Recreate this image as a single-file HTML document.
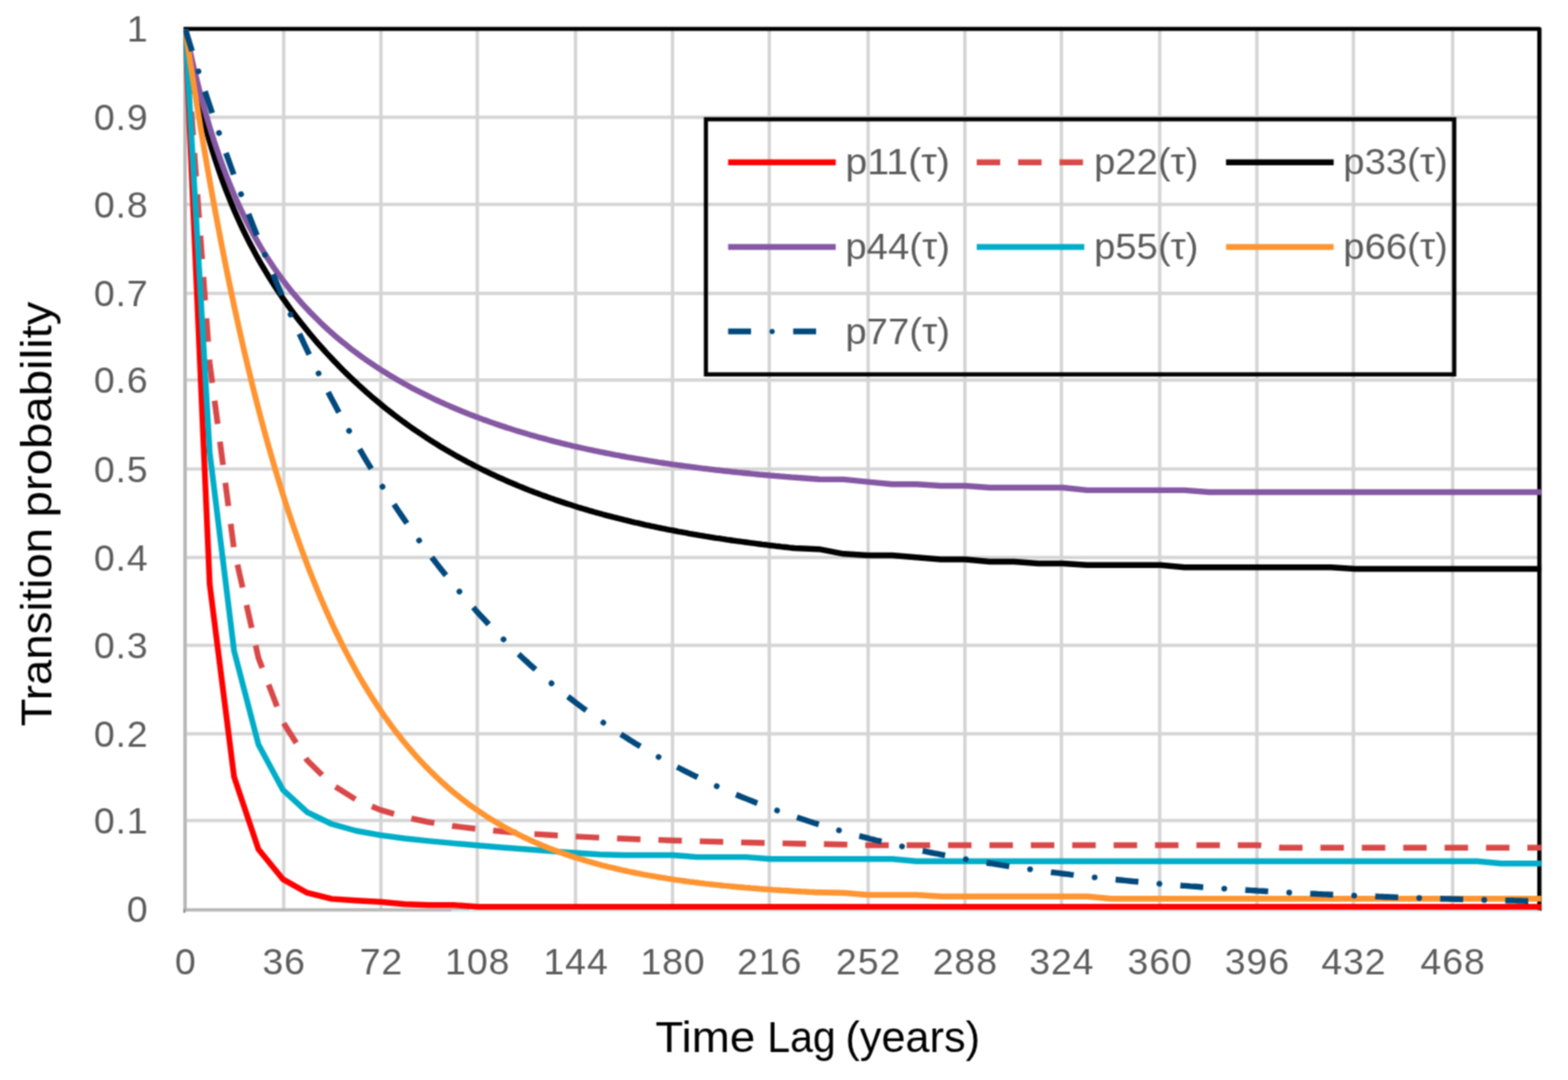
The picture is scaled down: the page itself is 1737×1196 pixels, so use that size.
<!DOCTYPE html>
<html lang="en">
<head>
<meta charset="utf-8">
<title>Transition probability vs. time lag</title>
<style>
html,body{margin:0;padding:0;background:#fff;}
body{width:1737px;height:1196px;overflow:hidden;}
svg{display:block;}
text{font-family:"Liberation Sans",sans-serif;}
.tick{font-size:41.5px;fill:#5c5c5c;letter-spacing:1px;}
.leg{font-size:41.5px;fill:#5c5c5c;}
.title{font-size:49px;fill:#000;}
.grid line{stroke:#d5d5d5;stroke-width:3.8;}
.series path{fill:none;stroke-width:6.4;stroke-linejoin:round;}
</style>
</head>
<body>
<svg width="1737" height="1196" viewBox="0 0 1737 1196" role="img" aria-label="Transition probability versus time lag">
<defs>
<clipPath id="plotclip"><rect x="203.3" y="30.0" width="1504.0" height="979.7"/></clipPath>
<filter id="soft" x="0" y="0" width="1737" height="1196" filterUnits="userSpaceOnUse" color-interpolation-filters="sRGB"><feConvolveMatrix order="3" kernelMatrix="0.0625 0.125 0.0625 0.125 0.25 0.125 0.0625 0.125 0.0625" divisor="1" edgeMode="duplicate" preserveAlpha="false"/></filter>
</defs>
<g filter="url(#soft)">
<rect x="0" y="0" width="1737" height="1196" fill="#ffffff"/>
<g class="grid">
<line x1="205.3" y1="908.7" x2="1705.3" y2="908.7"/>
<line x1="205.3" y1="812.7" x2="1705.3" y2="812.7"/>
<line x1="205.3" y1="714.6" x2="1705.3" y2="714.6"/>
<line x1="205.3" y1="617.3" x2="1705.3" y2="617.3"/>
<line x1="205.3" y1="519.4" x2="1705.3" y2="519.4"/>
<line x1="205.3" y1="420.8" x2="1705.3" y2="420.8"/>
<line x1="205.3" y1="324.9" x2="1705.3" y2="324.9"/>
<line x1="205.3" y1="226.4" x2="1705.3" y2="226.4"/>
<line x1="205.3" y1="129.9" x2="1705.3" y2="129.9"/>
<line x1="314.3" y1="32.0" x2="314.3" y2="1006.7"/>
<line x1="422.0" y1="32.0" x2="422.0" y2="1006.7"/>
<line x1="528.7" y1="32.0" x2="528.7" y2="1006.7"/>
<line x1="637.6" y1="32.0" x2="637.6" y2="1006.7"/>
<line x1="745.0" y1="32.0" x2="745.0" y2="1006.7"/>
<line x1="852.2" y1="32.0" x2="852.2" y2="1006.7"/>
<line x1="961.7" y1="32.0" x2="961.7" y2="1006.7"/>
<line x1="1068.9" y1="32.0" x2="1068.9" y2="1006.7"/>
<line x1="1175.8" y1="32.0" x2="1175.8" y2="1006.7"/>
<line x1="1284.7" y1="32.0" x2="1284.7" y2="1006.7"/>
<line x1="1392.4" y1="32.0" x2="1392.4" y2="1006.7"/>
<line x1="1499.3" y1="32.0" x2="1499.3" y2="1006.7"/>
<line x1="1609.2" y1="32.0" x2="1609.2" y2="1006.7"/>
</g>
<g fill="none">
<path d="M203.3 32.0 H1705.3 V1008.7" stroke="#000" stroke-width="4.7" stroke-linejoin="round"/>
<line x1="205.0" y1="34.0" x2="205.0" y2="1008.7" stroke="#bababa" stroke-width="4"/>
<line x1="203.0" y1="1007.6" x2="520.0" y2="1007.6" stroke="#b8b8b8" stroke-width="3.8"/>
<rect x="203.2" y="1006.6" width="2.1" height="4.4" fill="#8a8a8a"/>
<line x1="500.0" y1="1008.9" x2="1706.3" y2="1008.9" stroke="#d3f0f2" stroke-width="2.4"/>
</g>
<g class="series" clip-path="url(#plotclip)">
<path id="p11" stroke="#ff0000" stroke-linecap="butt" d="M205.3 32.4 L232.3 647.2 L259.3 860.3 L286.3 940.4 L313.3 973.6 L340.3 988.7 L367.3 995.4 L394.3 997.2 L421.3 998.7 L448.3 1001.2 L475.3 1002.2 L502.3 1002.2 L529.3 1004.2 L556.3 1004.2 L583.3 1004.2 L610.3 1004.2 L637.3 1004.2 L664.3 1004.2 L691.3 1004.2 L718.3 1004.2 L745.3 1004.2 L772.3 1004.2 L799.3 1004.2 L826.3 1004.2 L853.3 1004.2 L880.3 1004.2 L907.3 1004.2 L934.3 1004.2 L961.3 1004.2 L988.3 1004.2 L1015.3 1004.2 L1042.3 1004.2 L1069.3 1004.2 L1096.3 1004.2 L1123.3 1004.2 L1150.3 1004.2 L1177.3 1004.2 L1204.3 1004.2 L1231.3 1004.2 L1258.3 1004.2 L1285.3 1004.2 L1312.3 1004.2 L1339.3 1004.2 L1366.3 1004.2 L1393.3 1004.2 L1420.3 1004.2 L1447.3 1004.2 L1474.3 1004.2 L1501.3 1004.2 L1528.3 1004.2 L1555.3 1004.2 L1582.3 1004.2 L1609.3 1004.2 L1636.3 1004.2 L1663.3 1004.2 L1690.3 1004.2 L1717.3 1004.2"/>
<path id="p22" stroke="#d94848" stroke-dasharray="26 19.85" stroke-linecap="butt" d="M205.3 32.4 L232.3 402.1 L259.3 608.7 L286.3 728.6 L313.3 799.3 L340.3 842.0 L367.3 868.5 L394.3 885.5 L421.3 896.9 L448.3 904.8 L475.3 910.5 L502.3 914.8 L529.3 918.1 L556.3 920.8 L583.3 923.0 L610.3 924.8 L637.3 926.3 L664.3 927.7 L691.3 928.8 L718.3 929.8 L745.3 930.7 L772.3 931.6 L799.3 932.3 L826.3 933.0 L853.3 933.6 L880.3 934.2 L907.3 934.7 L934.3 935.2 L961.3 936.0 L988.3 936.0 L1015.3 936.0 L1042.3 936.0 L1069.3 936.0 L1096.3 936.0 L1123.3 936.0 L1150.3 936.0 L1177.3 936.0 L1204.3 936.0 L1231.3 936.0 L1258.3 936.0 L1285.3 936.0 L1312.3 936.0 L1339.3 936.0 L1366.3 936.0 L1393.3 936.0 L1420.3 938.8 L1447.3 938.8 L1474.3 938.8 L1501.3 938.8 L1528.3 938.8 L1555.3 938.8 L1582.3 938.8 L1609.3 938.8 L1636.3 938.8 L1663.3 938.8 L1690.3 938.8 L1717.3 938.8"/>
<path id="p33" stroke="#000000" stroke-linecap="butt" d="M205.3 32.4 L208.3 52.0 L211.3 69.0 L214.3 84.3 L217.3 98.3 L220.3 111.4 L223.3 123.7 L226.3 135.4 L229.3 146.4 L232.3 156.8 L235.3 166.7 L238.3 176.2 L241.3 185.3 L244.3 194.0 L247.3 202.3 L250.3 210.3 L253.3 217.9 L256.3 225.3 L259.3 232.4 L262.3 239.3 L265.3 245.9 L268.3 252.4 L271.3 258.6 L274.3 264.6 L277.3 270.5 L280.3 276.1 L283.3 281.7 L286.3 287.1 L289.3 292.3 L292.3 297.4 L295.3 302.4 L298.3 307.3 L301.3 312.1 L304.3 316.7 L307.3 321.3 L310.3 325.8 L313.3 330.2 L316.3 334.4 L319.3 338.7 L322.3 342.8 L325.3 346.8 L328.3 350.8 L331.3 354.7 L334.3 358.6 L337.3 362.3 L340.3 366.0 L343.3 369.7 L346.3 373.3 L349.3 376.8 L352.3 380.3 L355.3 383.7 L358.3 387.0 L361.3 390.4 L364.3 393.6 L367.3 396.8 L370.3 400.0 L373.3 403.1 L376.3 406.2 L379.3 409.2 L382.3 412.2 L385.3 415.1 L388.3 418.0 L391.3 420.9 L394.3 423.7 L397.3 426.5 L400.3 429.2 L403.3 431.9 L406.3 434.6 L409.3 437.2 L412.3 439.8 L415.3 442.3 L418.3 444.8 L421.3 447.3 L424.3 449.8 L427.3 452.2 L430.3 454.6 L433.3 456.9 L436.3 459.2 L439.3 461.5 L442.3 463.8 L445.3 466.0 L448.3 468.2 L451.3 470.3 L454.3 472.5 L457.3 474.6 L460.3 476.7 L463.3 478.7 L466.3 480.7 L469.3 482.7 L472.3 484.7 L475.3 486.6 L478.3 488.6 L481.3 490.4 L484.3 492.3 L487.3 494.2 L490.3 496.0 L493.3 497.8 L496.3 499.5 L499.3 501.3 L502.3 503.0 L505.3 504.7 L508.3 506.4 L511.3 508.0 L514.3 509.6 L517.3 511.3 L520.3 512.8 L523.3 514.4 L526.3 516.0 L529.3 517.5 L532.3 519.0 L535.3 520.5 L538.3 521.9 L541.3 523.4 L544.3 524.8 L547.3 526.2 L550.3 527.6 L553.3 529.0 L556.3 530.3 L559.3 531.6 L562.3 533.0 L565.3 534.3 L568.3 535.5 L571.3 536.8 L574.3 538.1 L577.3 539.3 L580.3 540.5 L583.3 541.7 L586.3 542.9 L589.3 544.0 L592.3 545.2 L595.3 546.3 L598.3 547.4 L601.3 548.6 L604.3 549.6 L607.3 550.7 L610.3 551.8 L613.3 552.8 L616.3 553.9 L619.3 554.9 L622.3 555.9 L625.3 556.9 L628.3 557.9 L631.3 558.8 L634.3 559.8 L637.3 560.7 L640.3 561.7 L643.3 562.6 L646.3 563.5 L649.3 564.4 L652.3 565.3 L655.3 566.1 L658.3 567.0 L661.3 567.8 L664.3 568.7 L667.3 569.5 L670.3 570.3 L673.3 571.1 L676.3 571.9 L679.3 572.7 L682.3 573.4 L685.3 574.2 L688.3 574.9 L691.3 575.7 L694.3 576.4 L697.3 577.1 L700.3 577.9 L703.3 578.6 L706.3 579.2 L709.3 579.9 L712.3 580.6 L715.3 581.3 L718.3 581.9 L721.3 582.6 L724.3 583.2 L727.3 583.8 L730.3 584.5 L733.3 585.1 L736.3 585.7 L739.3 586.3 L742.3 586.9 L745.3 587.4 L748.3 588.0 L751.3 588.6 L754.3 589.1 L757.3 589.7 L760.3 590.2 L763.3 590.8 L766.3 591.3 L769.3 591.8 L772.3 592.3 L775.3 592.9 L778.3 593.4 L781.3 593.9 L784.3 594.3 L787.3 594.8 L790.3 595.3 L793.3 595.8 L796.3 596.2 L799.3 596.7 L802.3 597.1 L805.3 597.6 L808.3 598.0 L811.3 598.5 L814.3 598.9 L817.3 599.3 L820.3 599.7 L823.3 600.1 L826.3 600.5 L829.3 600.9 L832.3 601.3 L835.3 601.7 L838.3 602.1 L841.3 602.5 L844.3 602.9 L847.3 603.2 L850.3 603.6 L853.3 604.0 L856.3 604.3 L859.3 604.7 L862.3 605.0 L865.3 605.4 L868.3 605.7 L871.3 606.0 L874.3 606.4 L877.3 606.7 L880.3 607.0 L907.3 608.2 L934.3 613.3 L961.3 615.0 L988.3 615.0 L1015.3 617.3 L1042.3 619.5 L1069.3 619.5 L1096.3 622.0 L1123.3 622.0 L1150.3 624.0 L1177.3 624.0 L1204.3 625.8 L1231.3 625.8 L1258.3 625.8 L1285.3 625.8 L1312.3 628.3 L1339.3 628.3 L1366.3 628.3 L1393.3 628.3 L1420.3 628.3 L1447.3 628.3 L1474.3 628.3 L1501.3 630.0 L1528.3 630.0 L1555.3 630.0 L1582.3 630.0 L1609.3 630.0 L1636.3 630.0 L1663.3 630.0 L1690.3 630.0 L1717.3 630.0"/>
<path id="p44" stroke="#8558a3" stroke-linecap="butt" d="M205.3 32.4 L208.3 46.7 L211.3 60.3 L214.3 73.4 L217.3 85.8 L220.3 97.8 L223.3 109.2 L226.3 120.2 L229.3 130.7 L232.3 140.7 L235.3 150.4 L238.3 159.7 L241.3 168.6 L244.3 177.1 L247.3 185.4 L250.3 193.3 L253.3 201.0 L256.3 208.3 L259.3 215.4 L262.3 222.3 L265.3 228.9 L268.3 235.2 L271.3 241.4 L274.3 247.4 L277.3 253.1 L280.3 258.7 L283.3 264.1 L286.3 269.4 L289.3 274.5 L292.3 279.4 L295.3 284.2 L298.3 288.8 L301.3 293.3 L304.3 297.7 L307.3 302.0 L310.3 306.1 L313.3 310.2 L316.3 314.1 L319.3 318.0 L322.3 321.7 L325.3 325.4 L328.3 328.9 L331.3 332.4 L334.3 335.8 L337.3 339.1 L340.3 342.3 L343.3 345.5 L346.3 348.6 L349.3 351.6 L352.3 354.6 L355.3 357.5 L358.3 360.3 L361.3 363.1 L364.3 365.9 L367.3 368.5 L370.3 371.2 L373.3 373.7 L376.3 376.2 L379.3 378.7 L382.3 381.1 L385.3 383.5 L388.3 385.9 L391.3 388.2 L394.3 390.4 L397.3 392.6 L400.3 394.8 L403.3 397.0 L406.3 399.1 L409.3 401.1 L412.3 403.2 L415.3 405.2 L418.3 407.1 L421.3 409.1 L424.3 411.0 L427.3 412.8 L430.3 414.7 L433.3 416.5 L436.3 418.3 L439.3 420.1 L442.3 421.8 L445.3 423.5 L448.3 425.2 L451.3 426.8 L454.3 428.5 L457.3 430.1 L460.3 431.6 L463.3 433.2 L466.3 434.7 L469.3 436.2 L472.3 437.7 L475.3 439.2 L478.3 440.6 L481.3 442.1 L484.3 443.5 L487.3 444.9 L490.3 446.2 L493.3 447.6 L496.3 448.9 L499.3 450.2 L502.3 451.5 L505.3 452.8 L508.3 454.0 L511.3 455.3 L514.3 456.5 L517.3 457.7 L520.3 458.9 L523.3 460.0 L526.3 461.2 L529.3 462.3 L532.3 463.4 L535.3 464.6 L538.3 465.6 L541.3 466.7 L544.3 467.8 L547.3 468.8 L550.3 469.9 L553.3 470.9 L556.3 471.9 L559.3 472.9 L562.3 473.9 L565.3 474.8 L568.3 475.8 L571.3 476.7 L574.3 477.6 L577.3 478.5 L580.3 479.4 L583.3 480.3 L586.3 481.2 L589.3 482.1 L592.3 482.9 L595.3 483.8 L598.3 484.6 L601.3 485.4 L604.3 486.2 L607.3 487.0 L610.3 487.8 L613.3 488.6 L616.3 489.4 L619.3 490.1 L622.3 490.9 L625.3 491.6 L628.3 492.3 L631.3 493.0 L634.3 493.8 L637.3 494.5 L640.3 495.1 L643.3 495.8 L646.3 496.5 L649.3 497.2 L652.3 497.8 L655.3 498.4 L658.3 499.1 L661.3 499.7 L664.3 500.3 L667.3 500.9 L670.3 501.5 L673.3 502.1 L676.3 502.7 L679.3 503.3 L682.3 503.9 L685.3 504.4 L688.3 505.0 L691.3 505.5 L694.3 506.1 L697.3 506.6 L700.3 507.1 L703.3 507.7 L706.3 508.2 L709.3 508.7 L712.3 509.2 L715.3 509.7 L718.3 510.2 L721.3 510.6 L724.3 511.1 L727.3 511.6 L730.3 512.1 L733.3 512.5 L736.3 513.0 L739.3 513.4 L742.3 513.8 L745.3 514.3 L748.3 514.7 L751.3 515.1 L754.3 515.5 L757.3 515.9 L760.3 516.3 L763.3 516.7 L766.3 517.1 L769.3 517.5 L772.3 517.9 L775.3 518.3 L778.3 518.7 L781.3 519.0 L784.3 519.4 L787.3 519.8 L790.3 520.1 L793.3 520.5 L796.3 520.8 L799.3 521.1 L802.3 521.5 L805.3 521.8 L808.3 522.1 L811.3 522.5 L814.3 522.8 L817.3 523.1 L820.3 523.4 L823.3 523.7 L826.3 524.0 L829.3 524.3 L832.3 524.6 L835.3 524.9 L838.3 525.2 L841.3 525.5 L844.3 525.7 L847.3 526.0 L850.3 526.3 L853.3 526.6 L856.3 526.8 L859.3 527.1 L862.3 527.3 L865.3 527.6 L868.3 527.8 L871.3 528.1 L874.3 528.3 L877.3 528.6 L880.3 528.8 L907.3 530.8 L934.3 530.9 L961.3 533.6 L988.3 536.2 L1015.3 536.2 L1042.3 538.0 L1069.3 538.0 L1096.3 540.0 L1123.3 540.0 L1150.3 540.0 L1177.3 540.0 L1204.3 542.9 L1231.3 542.9 L1258.3 542.9 L1285.3 542.9 L1312.3 542.9 L1339.3 545.0 L1366.3 545.0 L1393.3 545.0 L1420.3 545.0 L1447.3 545.0 L1474.3 545.0 L1501.3 545.0 L1528.3 545.0 L1555.3 545.0 L1582.3 545.0 L1609.3 545.0 L1636.3 545.0 L1663.3 545.0 L1690.3 545.0 L1717.3 545.0"/>
<path id="p55" stroke="#00adc8" stroke-linecap="butt" d="M205.3 32.4 L232.3 501.1 L259.3 720.7 L286.3 824.5 L313.3 874.6 L340.3 899.4 L367.3 912.5 L394.3 920.0 L421.3 924.9 L448.3 928.5 L475.3 931.4 L502.3 933.9 L529.3 936.3 L556.3 938.5 L583.3 940.5 L610.3 942.6 L637.3 944.5 L664.3 946.3 L691.3 947.0 L718.3 947.0 L745.3 947.0 L772.3 949.1 L799.3 949.1 L826.3 949.1 L853.3 951.3 L880.3 951.3 L907.3 951.3 L934.3 951.3 L961.3 951.3 L988.3 951.3 L1015.3 953.8 L1042.3 953.8 L1069.3 953.8 L1096.3 953.8 L1123.3 953.8 L1150.3 953.8 L1177.3 953.8 L1204.3 953.8 L1231.3 953.8 L1258.3 953.8 L1285.3 953.8 L1312.3 953.8 L1339.3 953.8 L1366.3 953.8 L1393.3 953.8 L1420.3 953.8 L1447.3 953.8 L1474.3 953.8 L1501.3 953.8 L1528.3 953.8 L1555.3 953.8 L1582.3 953.8 L1609.3 953.8 L1636.3 953.8 L1663.3 956.3 L1690.3 956.3 L1717.3 956.3"/>
<path id="p66" stroke="#ff9431" stroke-linecap="butt" d="M205.3 32.4 L208.3 52.7 L211.3 72.5 L214.3 91.9 L217.3 110.9 L220.3 129.5 L223.3 147.7 L226.3 165.6 L229.3 183.0 L232.3 200.1 L235.3 216.8 L238.3 233.2 L241.3 249.2 L244.3 264.9 L247.3 280.2 L250.3 295.3 L253.3 310.0 L256.3 324.4 L259.3 338.5 L262.3 352.3 L265.3 365.8 L268.3 379.1 L271.3 392.0 L274.3 404.7 L277.3 417.1 L280.3 429.2 L283.3 441.1 L286.3 452.8 L289.3 464.2 L292.3 475.3 L295.3 486.3 L298.3 496.9 L301.3 507.4 L304.3 517.7 L307.3 527.7 L310.3 537.5 L313.3 547.1 L316.3 556.5 L319.3 565.7 L322.3 574.8 L325.3 583.6 L328.3 592.2 L331.3 600.7 L334.3 609.0 L337.3 617.1 L340.3 625.0 L343.3 632.8 L346.3 640.4 L349.3 647.8 L352.3 655.1 L355.3 662.3 L358.3 669.3 L361.3 676.1 L364.3 682.8 L367.3 689.3 L370.3 695.8 L373.3 702.0 L376.3 708.2 L379.3 714.2 L382.3 720.1 L385.3 725.9 L388.3 731.5 L391.3 737.1 L394.3 742.5 L397.3 747.8 L400.3 753.0 L403.3 758.0 L406.3 763.0 L409.3 767.9 L412.3 772.6 L415.3 777.3 L418.3 781.9 L421.3 786.3 L424.3 790.7 L427.3 795.0 L430.3 799.2 L433.3 803.3 L436.3 807.3 L439.3 811.3 L442.3 815.1 L445.3 818.9 L448.3 822.6 L451.3 826.2 L454.3 829.7 L457.3 833.2 L460.3 836.6 L463.3 839.9 L466.3 843.2 L469.3 846.4 L472.3 849.5 L475.3 852.5 L478.3 855.5 L481.3 858.4 L484.3 861.3 L487.3 864.1 L490.3 866.8 L493.3 869.5 L496.3 872.2 L499.3 874.7 L502.3 877.3 L505.3 879.7 L508.3 882.1 L511.3 884.5 L514.3 886.8 L517.3 889.1 L520.3 891.3 L523.3 893.5 L526.3 895.6 L529.3 897.7 L532.3 899.7 L535.3 901.7 L538.3 903.7 L541.3 905.6 L544.3 907.5 L547.3 909.3 L550.3 911.1 L553.3 912.9 L556.3 914.6 L559.3 916.3 L562.3 917.9 L565.3 919.5 L568.3 921.1 L571.3 922.7 L574.3 924.2 L577.3 925.7 L580.3 927.1 L583.3 928.5 L586.3 929.9 L589.3 931.3 L592.3 932.6 L595.3 933.9 L598.3 935.2 L601.3 936.5 L604.3 937.7 L607.3 938.9 L610.3 940.1 L613.3 941.2 L616.3 942.3 L619.3 943.4 L622.3 944.5 L625.3 945.6 L628.3 946.6 L631.3 947.6 L634.3 948.6 L637.3 949.6 L640.3 950.5 L643.3 951.5 L646.3 952.4 L649.3 953.3 L652.3 954.2 L655.3 955.0 L658.3 955.9 L661.3 956.7 L664.3 957.5 L667.3 958.3 L670.3 959.0 L673.3 959.8 L676.3 960.5 L679.3 961.2 L682.3 962.0 L685.3 962.6 L688.3 963.3 L691.3 964.0 L694.3 964.6 L697.3 965.3 L700.3 965.9 L703.3 966.5 L706.3 967.1 L709.3 967.7 L712.3 968.3 L715.3 968.8 L718.3 969.4 L721.3 969.9 L724.3 970.4 L727.3 970.9 L730.3 971.5 L733.3 971.9 L736.3 972.4 L739.3 972.9 L742.3 973.4 L745.3 973.8 L748.3 974.3 L751.3 974.7 L754.3 975.1 L757.3 975.5 L760.3 976.0 L763.3 976.4 L766.3 976.7 L769.3 977.1 L772.3 977.5 L775.3 977.9 L778.3 978.2 L781.3 978.6 L784.3 978.9 L787.3 979.3 L790.3 979.6 L793.3 979.9 L796.3 980.2 L799.3 980.5 L802.3 980.9 L805.3 981.1 L808.3 981.4 L811.3 981.7 L814.3 982.0 L817.3 982.3 L820.3 982.5 L823.3 982.8 L826.3 983.1 L829.3 983.3 L832.3 983.6 L835.3 983.8 L838.3 984.0 L841.3 984.3 L844.3 984.5 L847.3 984.7 L850.3 984.9 L853.3 985.1 L856.3 985.4 L859.3 985.6 L862.3 985.8 L865.3 986.0 L868.3 986.1 L871.3 986.3 L874.3 986.5 L877.3 986.7 L880.3 986.9 L883.3 987.0 L886.3 987.2 L889.3 987.4 L892.3 987.5 L895.3 987.7 L898.3 987.9 L901.3 988.0 L904.3 988.2 L907.3 988.3 L934.3 988.7 L961.3 991.0 L988.3 991.0 L1015.3 991.0 L1042.3 992.7 L1069.3 992.7 L1096.3 992.7 L1123.3 992.7 L1150.3 992.7 L1177.3 992.7 L1204.3 992.7 L1231.3 995.2 L1258.3 995.2 L1285.3 995.2 L1312.3 995.2 L1339.3 995.2 L1366.3 995.2 L1393.3 995.2 L1420.3 995.2 L1447.3 995.2 L1474.3 995.2 L1501.3 995.2 L1528.3 995.2 L1555.3 995.2 L1582.3 995.2 L1609.3 995.2 L1636.3 995.2 L1663.3 995.2 L1690.3 995.2 L1717.3 995.2"/>
<path id="p77" stroke="#00497c" stroke-dasharray="25.4 46.68" stroke-linecap="butt" d="M205.3 32.4 L208.3 42.2 L211.3 51.9 L214.3 61.5 L217.3 70.9 L220.3 80.3 L223.3 89.6 L226.3 98.9 L229.3 108.0 L232.3 117.0 L235.3 125.9 L238.3 134.8 L241.3 143.5 L244.3 152.2 L247.3 160.8 L250.3 169.3 L253.3 177.7 L256.3 186.0 L259.3 194.2 L262.3 202.4 L265.3 210.4 L268.3 218.4 L271.3 226.3 L274.3 234.2 L277.3 241.9 L280.3 249.6 L283.3 257.2 L286.3 264.7 L289.3 272.2 L292.3 279.5 L295.3 286.8 L298.3 294.0 L301.3 301.2 L304.3 308.3 L307.3 315.3 L310.3 322.2 L313.3 329.1 L316.3 335.9 L319.3 342.6 L322.3 349.3 L325.3 355.9 L328.3 362.4 L331.3 368.8 L334.3 375.2 L337.3 381.6 L340.3 387.8 L343.3 394.0 L346.3 400.2 L349.3 406.3 L352.3 412.3 L355.3 418.2 L358.3 424.1 L361.3 430.0 L364.3 435.8 L367.3 441.5 L370.3 447.1 L373.3 452.7 L376.3 458.3 L379.3 463.8 L382.3 469.2 L385.3 474.6 L388.3 479.9 L391.3 485.2 L394.3 490.4 L397.3 495.6 L400.3 500.7 L403.3 505.8 L406.3 510.8 L409.3 515.8 L412.3 520.7 L415.3 525.6 L418.3 530.4 L421.3 535.1 L424.3 539.9 L427.3 544.5 L430.3 549.2 L433.3 553.7 L436.3 558.3 L439.3 562.8 L442.3 567.2 L445.3 571.6 L448.3 576.0 L451.3 580.3 L454.3 584.5 L457.3 588.8 L460.3 592.9 L463.3 597.1 L466.3 601.2 L469.3 605.2 L472.3 609.2 L475.3 613.2 L478.3 617.2 L481.3 621.0 L484.3 624.9 L487.3 628.7 L490.3 632.5 L493.3 636.2 L496.3 639.9 L499.3 643.6 L502.3 647.2 L505.3 650.8 L508.3 654.4 L511.3 657.9 L514.3 661.4 L517.3 664.8 L520.3 668.3 L523.3 671.6 L526.3 675.0 L529.3 678.3 L532.3 681.6 L535.3 684.8 L538.3 688.0 L541.3 691.2 L544.3 694.4 L547.3 697.5 L550.3 700.6 L553.3 703.6 L556.3 706.6 L559.3 709.6 L562.3 712.6 L565.3 715.5 L568.3 718.4 L571.3 721.3 L574.3 724.2 L577.3 727.0 L580.3 729.8 L583.3 732.5 L586.3 735.3 L589.3 738.0 L592.3 740.6 L595.3 743.3 L598.3 745.9 L601.3 748.5 L604.3 751.1 L607.3 753.6 L610.3 756.2 L613.3 758.7 L616.3 761.1 L619.3 763.6 L622.3 766.0 L625.3 768.4 L628.3 770.8 L631.3 773.1 L634.3 775.4 L637.3 777.7 L640.3 780.0 L643.3 782.3 L646.3 784.5 L649.3 786.7 L652.3 788.9 L655.3 791.1 L658.3 793.2 L661.3 795.3 L664.3 797.4 L667.3 799.5 L670.3 801.6 L673.3 803.6 L676.3 805.6 L679.3 807.6 L682.3 809.6 L685.3 811.6 L688.3 813.5 L691.3 815.4 L694.3 817.3 L697.3 819.2 L700.3 821.1 L703.3 822.9 L706.3 824.7 L709.3 826.5 L712.3 828.3 L715.3 830.1 L718.3 831.8 L721.3 833.6 L724.3 835.3 L727.3 837.0 L730.3 838.7 L733.3 840.3 L736.3 842.0 L739.3 843.6 L742.3 845.2 L745.3 846.8 L748.3 848.4 L751.3 850.0 L754.3 851.5 L757.3 853.1 L760.3 854.6 L763.3 856.1 L766.3 857.6 L769.3 859.1 L772.3 860.5 L775.3 862.0 L778.3 863.4 L781.3 864.8 L784.3 866.2 L787.3 867.6 L790.3 869.0 L793.3 870.3 L796.3 871.7 L799.3 873.0 L802.3 874.3 L805.3 875.6 L808.3 876.9 L811.3 878.2 L814.3 879.5 L817.3 880.7 L820.3 882.0 L823.3 883.2 L826.3 884.4 L829.3 885.6 L832.3 886.8 L835.3 888.0 L838.3 889.2 L841.3 890.3 L844.3 891.5 L847.3 892.6 L850.3 893.7 L853.3 894.8 L856.3 895.9 L859.3 897.0 L862.3 898.1 L865.3 899.2 L868.3 900.2 L871.3 901.3 L874.3 902.3 L877.3 903.3 L880.3 904.3 L883.3 905.3 L886.3 906.3 L889.3 907.3 L892.3 908.3 L895.3 909.3 L898.3 910.2 L901.3 911.2 L904.3 912.1 L907.3 913.0 L910.3 913.9 L913.3 914.8 L916.3 915.7 L919.3 916.6 L922.3 917.5 L925.3 918.4 L928.3 919.2 L931.3 920.1 L934.3 920.9 L937.3 921.8 L940.3 922.6 L943.3 923.4 L946.3 924.2 L949.3 925.1 L952.3 925.8 L955.3 926.6 L958.3 927.4 L961.3 928.2 L964.3 929.0 L967.3 929.7 L970.3 930.5 L973.3 931.2 L976.3 931.9 L979.3 932.7 L982.3 933.4 L985.3 934.1 L988.3 934.8 L991.3 935.5 L994.3 936.2 L997.3 936.9 L1000.3 937.5 L1003.3 938.2 L1006.3 938.9 L1009.3 939.5 L1012.3 940.2 L1015.3 940.8 L1018.3 941.5 L1021.3 942.1 L1024.3 942.7 L1027.3 943.3 L1030.3 944.0 L1033.3 944.6 L1036.3 945.2 L1039.3 945.7 L1042.3 946.3 L1045.3 946.9 L1048.3 947.5 L1051.3 948.1 L1054.3 948.6 L1057.3 949.2 L1060.3 949.7 L1063.3 950.3 L1066.3 950.8 L1069.3 951.4 L1072.3 951.9 L1075.3 952.4 L1078.3 952.9 L1081.3 953.5 L1084.3 954.0 L1087.3 954.5 L1090.3 955.0 L1093.3 955.5 L1096.3 956.0 L1099.3 956.4 L1102.3 956.9 L1105.3 957.4 L1108.3 957.9 L1111.3 958.3 L1114.3 958.8 L1117.3 959.3 L1120.3 959.7 L1123.3 960.2 L1126.3 960.6 L1129.3 961.0 L1132.3 961.5 L1135.3 961.9 L1138.3 962.3 L1141.3 962.7 L1144.3 963.2 L1147.3 963.6 L1150.3 964.0 L1153.3 964.4 L1156.3 964.8 L1159.3 965.2 L1162.3 965.6 L1165.3 966.0 L1168.3 966.3 L1171.3 966.7 L1174.3 967.1 L1177.3 967.5 L1180.3 967.8 L1183.3 968.2 L1186.3 968.6 L1189.3 968.9 L1192.3 969.3 L1195.3 969.6 L1198.3 970.0 L1201.3 970.3 L1204.3 970.7 L1207.3 971.0 L1210.3 971.3 L1213.3 971.7 L1216.3 972.0 L1219.3 972.3 L1222.3 972.6 L1225.3 973.0 L1228.3 973.3 L1231.3 973.6 L1234.3 973.9 L1237.3 974.2 L1240.3 974.5 L1243.3 974.8 L1246.3 975.1 L1249.3 975.4 L1252.3 975.7 L1255.3 976.0 L1258.3 976.2 L1261.3 976.5 L1264.3 976.8 L1267.3 977.1 L1270.3 977.3 L1273.3 977.6 L1276.3 977.9 L1279.3 978.1 L1282.3 978.4 L1285.3 978.7 L1288.3 978.9 L1291.3 979.2 L1294.3 979.4 L1297.3 979.7 L1300.3 979.9 L1303.3 980.2 L1306.3 980.4 L1309.3 980.7 L1312.3 980.9 L1315.3 981.1 L1318.3 981.4 L1321.3 981.6 L1324.3 981.8 L1327.3 982.0 L1330.3 982.3 L1333.3 982.5 L1336.3 982.7 L1339.3 982.9 L1342.3 983.1 L1345.3 983.3 L1348.3 983.5 L1351.3 983.8 L1354.3 984.0 L1357.3 984.2 L1360.3 984.4 L1363.3 984.6 L1366.3 984.8 L1369.3 985.0 L1372.3 985.2 L1375.3 985.3 L1378.3 985.5 L1381.3 985.7 L1384.3 985.9 L1387.3 986.1 L1390.3 986.3 L1393.3 986.5 L1396.3 986.6 L1399.3 986.8 L1402.3 987.0 L1405.3 987.2 L1408.3 987.3 L1411.3 987.5 L1414.3 987.7 L1417.3 987.8 L1420.3 988.0 L1423.3 988.2 L1426.3 988.3 L1429.3 988.5 L1432.3 988.6 L1435.3 988.8 L1438.3 988.9 L1441.3 989.1 L1444.3 989.3 L1447.3 989.4 L1450.3 989.6 L1453.3 989.7 L1456.3 989.8 L1459.3 990.0 L1462.3 990.1 L1465.3 990.3 L1468.3 990.4 L1471.3 990.5 L1474.3 990.7 L1477.3 990.8 L1480.3 991.0 L1483.3 991.1 L1486.3 991.2 L1489.3 991.4 L1492.3 991.5 L1495.3 991.6 L1498.3 991.7 L1501.3 991.9 L1504.3 992.0 L1507.3 992.1 L1510.3 992.2 L1513.3 992.3 L1516.3 992.5 L1519.3 992.6 L1522.3 992.7 L1525.3 992.8 L1528.3 992.9 L1531.3 993.0 L1534.3 993.2 L1537.3 993.3 L1540.3 993.4 L1543.3 993.5 L1546.3 993.6 L1549.3 993.7 L1552.3 993.8 L1555.3 993.9 L1558.3 994.0 L1561.3 994.1 L1564.3 994.2 L1567.3 994.3 L1570.3 994.4 L1573.3 994.5 L1576.3 994.6 L1579.3 994.7 L1582.3 994.8 L1585.3 994.9 L1588.3 995.0 L1591.3 995.1 L1594.3 995.2 L1597.3 995.3 L1600.3 995.4 L1603.3 995.4 L1606.3 995.5 L1609.3 995.6 L1612.3 995.7 L1615.3 995.8 L1618.3 995.9 L1621.3 996.0 L1624.3 996.0 L1627.3 996.1 L1630.3 996.2 L1633.3 996.3 L1636.3 996.4 L1639.3 996.4 L1642.3 996.5 L1645.3 996.6 L1648.3 996.7 L1651.3 996.8 L1654.3 996.8 L1657.3 996.9 L1660.3 997.0 L1663.3 997.0 L1666.3 997.1 L1669.3 997.2 L1672.3 997.3 L1675.3 997.3 L1678.3 997.4 L1681.3 997.5 L1684.3 997.5 L1687.3 997.6 L1690.3 997.7 L1693.3 997.7 L1696.3 997.8 L1699.3 997.9 L1702.3 997.9 L1705.3 998.0 L1708.3 998.1 L1711.3 998.1 L1714.3 998.2 L1717.3 998.2"/>
<path id="p77dots" stroke="#00497c" stroke-width="5.6" stroke-linecap="round" stroke-dasharray="0.01 72.07" stroke-dashoffset="-48.75" d="M205.3 32.4 L208.3 42.2 L211.3 51.9 L214.3 61.5 L217.3 70.9 L220.3 80.3 L223.3 89.6 L226.3 98.9 L229.3 108.0 L232.3 117.0 L235.3 125.9 L238.3 134.8 L241.3 143.5 L244.3 152.2 L247.3 160.8 L250.3 169.3 L253.3 177.7 L256.3 186.0 L259.3 194.2 L262.3 202.4 L265.3 210.4 L268.3 218.4 L271.3 226.3 L274.3 234.2 L277.3 241.9 L280.3 249.6 L283.3 257.2 L286.3 264.7 L289.3 272.2 L292.3 279.5 L295.3 286.8 L298.3 294.0 L301.3 301.2 L304.3 308.3 L307.3 315.3 L310.3 322.2 L313.3 329.1 L316.3 335.9 L319.3 342.6 L322.3 349.3 L325.3 355.9 L328.3 362.4 L331.3 368.8 L334.3 375.2 L337.3 381.6 L340.3 387.8 L343.3 394.0 L346.3 400.2 L349.3 406.3 L352.3 412.3 L355.3 418.2 L358.3 424.1 L361.3 430.0 L364.3 435.8 L367.3 441.5 L370.3 447.1 L373.3 452.7 L376.3 458.3 L379.3 463.8 L382.3 469.2 L385.3 474.6 L388.3 479.9 L391.3 485.2 L394.3 490.4 L397.3 495.6 L400.3 500.7 L403.3 505.8 L406.3 510.8 L409.3 515.8 L412.3 520.7 L415.3 525.6 L418.3 530.4 L421.3 535.1 L424.3 539.9 L427.3 544.5 L430.3 549.2 L433.3 553.7 L436.3 558.3 L439.3 562.8 L442.3 567.2 L445.3 571.6 L448.3 576.0 L451.3 580.3 L454.3 584.5 L457.3 588.8 L460.3 592.9 L463.3 597.1 L466.3 601.2 L469.3 605.2 L472.3 609.2 L475.3 613.2 L478.3 617.2 L481.3 621.0 L484.3 624.9 L487.3 628.7 L490.3 632.5 L493.3 636.2 L496.3 639.9 L499.3 643.6 L502.3 647.2 L505.3 650.8 L508.3 654.4 L511.3 657.9 L514.3 661.4 L517.3 664.8 L520.3 668.3 L523.3 671.6 L526.3 675.0 L529.3 678.3 L532.3 681.6 L535.3 684.8 L538.3 688.0 L541.3 691.2 L544.3 694.4 L547.3 697.5 L550.3 700.6 L553.3 703.6 L556.3 706.6 L559.3 709.6 L562.3 712.6 L565.3 715.5 L568.3 718.4 L571.3 721.3 L574.3 724.2 L577.3 727.0 L580.3 729.8 L583.3 732.5 L586.3 735.3 L589.3 738.0 L592.3 740.6 L595.3 743.3 L598.3 745.9 L601.3 748.5 L604.3 751.1 L607.3 753.6 L610.3 756.2 L613.3 758.7 L616.3 761.1 L619.3 763.6 L622.3 766.0 L625.3 768.4 L628.3 770.8 L631.3 773.1 L634.3 775.4 L637.3 777.7 L640.3 780.0 L643.3 782.3 L646.3 784.5 L649.3 786.7 L652.3 788.9 L655.3 791.1 L658.3 793.2 L661.3 795.3 L664.3 797.4 L667.3 799.5 L670.3 801.6 L673.3 803.6 L676.3 805.6 L679.3 807.6 L682.3 809.6 L685.3 811.6 L688.3 813.5 L691.3 815.4 L694.3 817.3 L697.3 819.2 L700.3 821.1 L703.3 822.9 L706.3 824.7 L709.3 826.5 L712.3 828.3 L715.3 830.1 L718.3 831.8 L721.3 833.6 L724.3 835.3 L727.3 837.0 L730.3 838.7 L733.3 840.3 L736.3 842.0 L739.3 843.6 L742.3 845.2 L745.3 846.8 L748.3 848.4 L751.3 850.0 L754.3 851.5 L757.3 853.1 L760.3 854.6 L763.3 856.1 L766.3 857.6 L769.3 859.1 L772.3 860.5 L775.3 862.0 L778.3 863.4 L781.3 864.8 L784.3 866.2 L787.3 867.6 L790.3 869.0 L793.3 870.3 L796.3 871.7 L799.3 873.0 L802.3 874.3 L805.3 875.6 L808.3 876.9 L811.3 878.2 L814.3 879.5 L817.3 880.7 L820.3 882.0 L823.3 883.2 L826.3 884.4 L829.3 885.6 L832.3 886.8 L835.3 888.0 L838.3 889.2 L841.3 890.3 L844.3 891.5 L847.3 892.6 L850.3 893.7 L853.3 894.8 L856.3 895.9 L859.3 897.0 L862.3 898.1 L865.3 899.2 L868.3 900.2 L871.3 901.3 L874.3 902.3 L877.3 903.3 L880.3 904.3 L883.3 905.3 L886.3 906.3 L889.3 907.3 L892.3 908.3 L895.3 909.3 L898.3 910.2 L901.3 911.2 L904.3 912.1 L907.3 913.0 L910.3 913.9 L913.3 914.8 L916.3 915.7 L919.3 916.6 L922.3 917.5 L925.3 918.4 L928.3 919.2 L931.3 920.1 L934.3 920.9 L937.3 921.8 L940.3 922.6 L943.3 923.4 L946.3 924.2 L949.3 925.1 L952.3 925.8 L955.3 926.6 L958.3 927.4 L961.3 928.2 L964.3 929.0 L967.3 929.7 L970.3 930.5 L973.3 931.2 L976.3 931.9 L979.3 932.7 L982.3 933.4 L985.3 934.1 L988.3 934.8 L991.3 935.5 L994.3 936.2 L997.3 936.9 L1000.3 937.5 L1003.3 938.2 L1006.3 938.9 L1009.3 939.5 L1012.3 940.2 L1015.3 940.8 L1018.3 941.5 L1021.3 942.1 L1024.3 942.7 L1027.3 943.3 L1030.3 944.0 L1033.3 944.6 L1036.3 945.2 L1039.3 945.7 L1042.3 946.3 L1045.3 946.9 L1048.3 947.5 L1051.3 948.1 L1054.3 948.6 L1057.3 949.2 L1060.3 949.7 L1063.3 950.3 L1066.3 950.8 L1069.3 951.4 L1072.3 951.9 L1075.3 952.4 L1078.3 952.9 L1081.3 953.5 L1084.3 954.0 L1087.3 954.5 L1090.3 955.0 L1093.3 955.5 L1096.3 956.0 L1099.3 956.4 L1102.3 956.9 L1105.3 957.4 L1108.3 957.9 L1111.3 958.3 L1114.3 958.8 L1117.3 959.3 L1120.3 959.7 L1123.3 960.2 L1126.3 960.6 L1129.3 961.0 L1132.3 961.5 L1135.3 961.9 L1138.3 962.3 L1141.3 962.7 L1144.3 963.2 L1147.3 963.6 L1150.3 964.0 L1153.3 964.4 L1156.3 964.8 L1159.3 965.2 L1162.3 965.6 L1165.3 966.0 L1168.3 966.3 L1171.3 966.7 L1174.3 967.1 L1177.3 967.5 L1180.3 967.8 L1183.3 968.2 L1186.3 968.6 L1189.3 968.9 L1192.3 969.3 L1195.3 969.6 L1198.3 970.0 L1201.3 970.3 L1204.3 970.7 L1207.3 971.0 L1210.3 971.3 L1213.3 971.7 L1216.3 972.0 L1219.3 972.3 L1222.3 972.6 L1225.3 973.0 L1228.3 973.3 L1231.3 973.6 L1234.3 973.9 L1237.3 974.2 L1240.3 974.5 L1243.3 974.8 L1246.3 975.1 L1249.3 975.4 L1252.3 975.7 L1255.3 976.0 L1258.3 976.2 L1261.3 976.5 L1264.3 976.8 L1267.3 977.1 L1270.3 977.3 L1273.3 977.6 L1276.3 977.9 L1279.3 978.1 L1282.3 978.4 L1285.3 978.7 L1288.3 978.9 L1291.3 979.2 L1294.3 979.4 L1297.3 979.7 L1300.3 979.9 L1303.3 980.2 L1306.3 980.4 L1309.3 980.7 L1312.3 980.9 L1315.3 981.1 L1318.3 981.4 L1321.3 981.6 L1324.3 981.8 L1327.3 982.0 L1330.3 982.3 L1333.3 982.5 L1336.3 982.7 L1339.3 982.9 L1342.3 983.1 L1345.3 983.3 L1348.3 983.5 L1351.3 983.8 L1354.3 984.0 L1357.3 984.2 L1360.3 984.4 L1363.3 984.6 L1366.3 984.8 L1369.3 985.0 L1372.3 985.2 L1375.3 985.3 L1378.3 985.5 L1381.3 985.7 L1384.3 985.9 L1387.3 986.1 L1390.3 986.3 L1393.3 986.5 L1396.3 986.6 L1399.3 986.8 L1402.3 987.0 L1405.3 987.2 L1408.3 987.3 L1411.3 987.5 L1414.3 987.7 L1417.3 987.8 L1420.3 988.0 L1423.3 988.2 L1426.3 988.3 L1429.3 988.5 L1432.3 988.6 L1435.3 988.8 L1438.3 988.9 L1441.3 989.1 L1444.3 989.3 L1447.3 989.4 L1450.3 989.6 L1453.3 989.7 L1456.3 989.8 L1459.3 990.0 L1462.3 990.1 L1465.3 990.3 L1468.3 990.4 L1471.3 990.5 L1474.3 990.7 L1477.3 990.8 L1480.3 991.0 L1483.3 991.1 L1486.3 991.2 L1489.3 991.4 L1492.3 991.5 L1495.3 991.6 L1498.3 991.7 L1501.3 991.9 L1504.3 992.0 L1507.3 992.1 L1510.3 992.2 L1513.3 992.3 L1516.3 992.5 L1519.3 992.6 L1522.3 992.7 L1525.3 992.8 L1528.3 992.9 L1531.3 993.0 L1534.3 993.2 L1537.3 993.3 L1540.3 993.4 L1543.3 993.5 L1546.3 993.6 L1549.3 993.7 L1552.3 993.8 L1555.3 993.9 L1558.3 994.0 L1561.3 994.1 L1564.3 994.2 L1567.3 994.3 L1570.3 994.4 L1573.3 994.5 L1576.3 994.6 L1579.3 994.7 L1582.3 994.8 L1585.3 994.9 L1588.3 995.0 L1591.3 995.1 L1594.3 995.2 L1597.3 995.3 L1600.3 995.4 L1603.3 995.4 L1606.3 995.5 L1609.3 995.6 L1612.3 995.7 L1615.3 995.8 L1618.3 995.9 L1621.3 996.0 L1624.3 996.0 L1627.3 996.1 L1630.3 996.2 L1633.3 996.3 L1636.3 996.4 L1639.3 996.4 L1642.3 996.5 L1645.3 996.6 L1648.3 996.7 L1651.3 996.8 L1654.3 996.8 L1657.3 996.9 L1660.3 997.0 L1663.3 997.0 L1666.3 997.1 L1669.3 997.2 L1672.3 997.3 L1675.3 997.3 L1678.3 997.4 L1681.3 997.5 L1684.3 997.5 L1687.3 997.6 L1690.3 997.7 L1693.3 997.7 L1696.3 997.8 L1699.3 997.9 L1702.3 997.9 L1705.3 998.0 L1708.3 998.1 L1711.3 998.1 L1714.3 998.2 L1717.3 998.2"/>
</g>
<g class="legend">
<rect x="782.0" y="132.1" width="829.0" height="282.5" fill="none" stroke="#000" stroke-width="4.6"/>
<line x1="806.6" y1="179.7" x2="925.8" y2="179.7" stroke="#ff0000" stroke-width="6.5"/>
<text class="leg" x="936.5" y="193.3" textLength="115.8" lengthAdjust="spacingAndGlyphs">p11(τ)</text>
<line x1="1082.0" y1="179.7" x2="1201.2" y2="179.7" stroke="#d94848" stroke-width="6.5" stroke-dasharray="26 19.85"/>
<text class="leg" x="1211.9" y="193.3" textLength="115.8" lengthAdjust="spacingAndGlyphs">p22(τ)</text>
<line x1="1358.2" y1="179.7" x2="1477.4" y2="179.7" stroke="#000000" stroke-width="6.5"/>
<text class="leg" x="1488.1" y="193.3" textLength="115.8" lengthAdjust="spacingAndGlyphs">p33(τ)</text>
<line x1="806.6" y1="273.6" x2="925.8" y2="273.6" stroke="#8558a3" stroke-width="6.5"/>
<text class="leg" x="936.5" y="287.2" textLength="115.8" lengthAdjust="spacingAndGlyphs">p44(τ)</text>
<line x1="1082.0" y1="273.6" x2="1201.2" y2="273.6" stroke="#00adc8" stroke-width="6.5"/>
<text class="leg" x="1211.9" y="287.2" textLength="115.8" lengthAdjust="spacingAndGlyphs">p55(τ)</text>
<line x1="1358.2" y1="273.6" x2="1477.4" y2="273.6" stroke="#ff9431" stroke-width="6.5"/>
<text class="leg" x="1488.1" y="287.2" textLength="115.8" lengthAdjust="spacingAndGlyphs">p66(τ)</text>
<line x1="806.6" y1="367.1" x2="906.6" y2="367.1" stroke="#00497c" stroke-width="5.8" stroke-linecap="round" stroke-dasharray="0.01 72.07" stroke-dashoffset="-48.75"/>
<line x1="806.6" y1="367.1" x2="906.6" y2="367.1" stroke="#00497c" stroke-width="6.5" stroke-dasharray="25.4 46.68"/>
<text class="leg" x="936.5" y="380.7" textLength="115.8" lengthAdjust="spacingAndGlyphs">p77(τ)</text>
</g>
<g class="tick" text-anchor="end">
<text x="164.6" y="1021.3">0</text>
<text x="164.6" y="923.0">0.1</text>
<text x="164.6" y="827.0">0.2</text>
<text x="164.6" y="728.9">0.3</text>
<text x="164.6" y="631.6">0.4</text>
<text x="164.6" y="533.7">0.5</text>
<text x="164.6" y="435.1">0.6</text>
<text x="164.6" y="339.2">0.7</text>
<text x="164.6" y="240.7">0.8</text>
<text x="164.6" y="144.2">0.9</text>
<text x="164.6" y="46.3">1</text>
</g>
<g class="tick" text-anchor="middle">
<text x="205.8" y="1079.3">0</text>
<text x="314.8" y="1079.3">36</text>
<text x="422.5" y="1079.3">72</text>
<text x="529.2" y="1079.3">108</text>
<text x="638.1" y="1079.3">144</text>
<text x="745.5" y="1079.3">180</text>
<text x="852.7" y="1079.3">216</text>
<text x="962.2" y="1079.3">252</text>
<text x="1069.4" y="1079.3">288</text>
<text x="1176.3" y="1079.3">324</text>
<text x="1285.2" y="1079.3">360</text>
<text x="1392.9" y="1079.3">396</text>
<text x="1499.8" y="1079.3">432</text>
<text x="1609.7" y="1079.3">468</text>
</g>
<text class="title" y="1165"><tspan x="726.0" textLength="110.6" lengthAdjust="spacingAndGlyphs">Time</tspan> <tspan x="850.0" textLength="75.8" lengthAdjust="spacingAndGlyphs">Lag</tspan> <tspan x="936.6" textLength="149.0" lengthAdjust="spacingAndGlyphs">(years)</tspan></text>
<text class="title" transform="translate(57 0) rotate(-90)" y="0"><tspan x="-804.5" textLength="219.9" lengthAdjust="spacingAndGlyphs">Transition</tspan> <tspan x="-573.0" textLength="239.1" lengthAdjust="spacingAndGlyphs">probability</tspan></text>
</g>
</svg>
</body>
</html>
